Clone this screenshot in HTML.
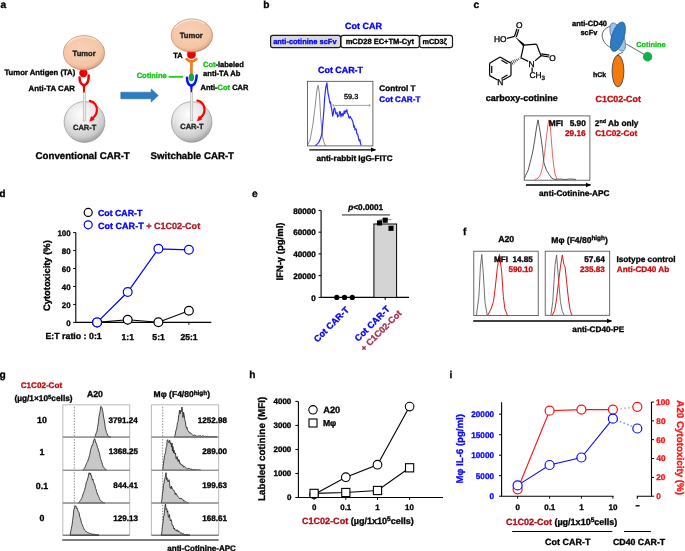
<!DOCTYPE html>
<html><head><meta charset="utf-8"><style>
html,body{margin:0;padding:0;background:#fff;}
svg{display:block;will-change:transform;font-family:"Liberation Sans",sans-serif;}
text,tspan{fill:currentColor;stroke:currentColor;stroke-width:0.32px;}
text{text-rendering:geometricPrecision;}
</style></head><body>
<svg width="685" height="551" viewBox="0 0 685 551">
<rect width="685" height="551" fill="#fff"/>
<defs><radialGradient id="tum" cx="45%" cy="40%" r="60%"><stop offset="0" stop-color="#f8d2b8"/><stop offset="0.8" stop-color="#f4c5a6"/><stop offset="0.95" stop-color="#e5ac8a"/><stop offset="1" stop-color="#c99072"/></radialGradient><radialGradient id="cell" cx="42%" cy="32%" r="70%"><stop offset="0" stop-color="#fdfdfd"/><stop offset="0.45" stop-color="#e9e9e9"/><stop offset="0.8" stop-color="#cbcbcb"/><stop offset="1" stop-color="#9c9c9c"/></radialGradient><marker id="ah" markerWidth="6" markerHeight="6" refX="5" refY="3" orient="auto" markerUnits="userSpaceOnUse"><path d="M0,0.6 L5.5,3 L0,5.4 z" fill="#000"/></marker></defs>
<text x="0.60" y="7.90" font-size="10.2" font-weight="bold" style="color:#000">a</text>
<text x="263.23" y="7.90" font-size="10.2" font-weight="bold" style="color:#000">b</text>
<text x="473.60" y="7.90" font-size="10.2" font-weight="bold" style="color:#000">c</text>
<text x="-0.72" y="196.60" font-size="10.2" font-weight="bold" style="color:#000">d</text>
<text x="252.10" y="196.60" font-size="10.2" font-weight="bold" style="color:#000">e</text>
<text x="463.03" y="234.50" font-size="10.2" font-weight="bold" style="color:#000">f</text>
<text x="-0.62" y="377.70" font-size="10.2" font-weight="bold" style="color:#000">g</text>
<text x="249.29" y="377.90" font-size="10.2" font-weight="bold" style="color:#000">h</text>
<text x="449.39" y="377.90" font-size="10.2" font-weight="bold" style="color:#000">i</text>
<circle cx="83.4" cy="73.1" r="4.2" fill="#ee0000"/>
<ellipse cx="84" cy="52.8" rx="20.6" ry="17.2" fill="url(#tum)" stroke="#b07c5e" stroke-width="0.6"/>
<path d="M67.108,45.059999999999995 A19.158,15.48 0 0 1 96.36,40.416" fill="none" stroke="#fff" stroke-opacity="0.55" stroke-width="1.1"/>
<text x="72.59" y="55.60" font-size="7.6" font-weight="bold" style="color:#1e1a16">Tumor</text>
<text x="4.51" y="74.90" font-size="7.7" font-weight="bold" style="color:#000">Tumor Antigen (TA)</text>
<text x="28.61" y="91.00" font-size="7.8" font-weight="bold" style="color:#000">Anti-TA CAR</text>
<path d="M79.6,77.4 C79.4,82.5 81.5,84.6 84,85.2 C86.6,84.6 88.8,82.5 88.7,75.4" fill="none" stroke="#ee0000" stroke-width="2.5" stroke-linecap="round"/>
<path d="M82.6,84.6 L85.4,84.6 L84.8,93 L83.2,93 z" fill="#ee0000"/>
<circle cx="84.5" cy="122" r="20.4" fill="url(#cell)" stroke="#8a8a8a" stroke-width="0.6"/>
<rect x="83.2" y="92.6" width="2.2" height="28.400000000000006" fill="#f3ece4" stroke="#9a9a9a" stroke-width="0.45"/>
<g transform="translate(0 0)"><path d="M89.8,100.9 C94.6,101.8 97.3,106.2 96.9,110.7 C96.6,114.2 94.8,116.6 92.6,118.2" fill="none" stroke="#ff0000" stroke-width="2.2" stroke-linecap="round"/><path d="M89.7,121.2 L91.3,116.6 L94.4,119.6 z" fill="#ff0000" stroke="#ff0000" stroke-width="0.6" stroke-linejoin="round"/></g>
<text x="73.02" y="129.80" font-size="7.5" font-weight="bold" style="color:#1a1a1a">CAR-T</text>
<text x="35.60" y="159.40" font-size="9.7" font-weight="bold" style="color:#000">Conventional CAR-T</text>
<path d="M120.8,92.2 L151.2,92.2 L151.2,88.9 L158.3,95.5 L151.2,102.1 L151.2,98.8 L120.8,98.8 z" fill="#2a7dc0" stroke="#1f5d96" stroke-width="0.5"/>
<circle cx="191.4" cy="54.4" r="4.1" fill="#ee0000" stroke="#8a0000" stroke-width="0.4"/>
<ellipse cx="191.9" cy="35.5" rx="20.7" ry="16.6" fill="url(#tum)" stroke="#b07c5e" stroke-width="0.6"/>
<path d="M174.92600000000002,28.03 A19.251,14.940000000000001 0 0 1 204.32,23.548000000000002" fill="none" stroke="#fff" stroke-opacity="0.55" stroke-width="1.1"/>
<text x="179.69" y="38.00" font-size="7.6" font-weight="bold" style="color:#1e1a16">Tumor</text>
<text x="173.32" y="57.90" font-size="7.5" font-weight="bold" style="color:#000">TA</text>
<path d="M186.0,58.3 Q191.4,64.6 197.1,58.3" fill="none" stroke="#f47920" stroke-width="2.7"/>
<rect x="190.1" y="61" width="2.7" height="13.5" fill="#f47920"/>
<path d="M187.0,77.8 C186.9,83 189,85.2 191.4,85.6 C194,85.2 196.2,83 196.7,75.4" fill="none" stroke="#1010ee" stroke-width="2.5" stroke-linecap="round"/>
<path d="M190.0,85 L192.8,85 L192.1,92.4 L190.7,92.4 z" fill="#1010ee"/>
<ellipse cx="191.4" cy="77.3" rx="2.7" ry="3.9" fill="#13a84a"/>
<line x1="168.6" y1="76.8" x2="183.2" y2="76.8" stroke="#22c422" stroke-width="1.8"/>
<text x="136.69" y="77.76" font-size="7.5" font-weight="bold" style="color:#12c412">Cotinine</text>
<text x="202.99" y="66.56" font-size="7.5" font-weight="bold" style="color:#000"><tspan style="color:#12c412">Cot</tspan>-labeled</text>
<text x="203.08" y="75.60" font-size="7.6" font-weight="bold" style="color:#000">anti-TA Ab</text>
<text x="200.51" y="89.86" font-size="7.5" font-weight="bold" style="color:#000">Anti-<tspan style="color:#12c412">Cot</tspan> CAR</text>
<circle cx="191.7" cy="122" r="20.3" fill="url(#cell)" stroke="#8a8a8a" stroke-width="0.6"/>
<rect x="190.6" y="92.3" width="2.2" height="28.5" fill="#f3ece4" stroke="#9a9a9a" stroke-width="0.45"/>
<g transform="translate(107.6 -0.3)"><path d="M89.8,100.9 C94.6,101.8 97.3,106.2 96.9,110.7 C96.6,114.2 94.8,116.6 92.6,118.2" fill="none" stroke="#ff0000" stroke-width="2.2" stroke-linecap="round"/><path d="M89.7,121.2 L91.3,116.6 L94.4,119.6 z" fill="#ff0000" stroke="#ff0000" stroke-width="0.6" stroke-linejoin="round"/></g>
<text x="180.22" y="129.00" font-size="7.5" font-weight="bold" style="color:#1a1a1a">CAR-T</text>
<text x="150.62" y="159.40" font-size="9.7" font-weight="bold" style="color:#000">Switchable CAR-T</text>
<text x="345.03" y="29.30" font-size="8.99" font-weight="bold" style="color:#0000ff">Cot CAR</text>
<rect x="270.6" y="35.4" width="70" height="12.3" rx="2.2" fill="#d9d9d9" stroke="#1a1a1a" stroke-width="1.2"/>
<rect x="341.0" y="35.4" width="78.3" height="12.3" rx="2.2" fill="#fff" stroke="#1a1a1a" stroke-width="1.2"/>
<rect x="419.7" y="35.4" width="32.8" height="12.3" rx="2.2" fill="#fff" stroke="#1a1a1a" stroke-width="1.2"/>
<text x="273.18" y="44.05" font-size="7.46" font-weight="bold" style="color:#0000ff">anti-cotinine scFv</text>
<text x="345.70" y="43.87" font-size="7.53" font-weight="bold" style="color:#000">mCD28 EC+TM-Cyt</text>
<text x="422.62" y="43.77" font-size="7.25" font-weight="bold" style="color:#000">mCD3ζ</text>
<text x="318.03" y="73.47" font-size="8.92" font-weight="bold" style="color:#0000ff">Cot CAR-T</text>
<rect x="307.4" y="81.3" width="65.5" height="64.6" fill="none" stroke="#444" stroke-width="0.8"/>
<polyline points="307.6,145.3 310.2,139.4 312.8,125.0 314.8,109.3 316.8,91.0 318.1,85.2 319.4,93.7 320.7,117.2 322.6,136.8 324.6,144.6 326.0,145.6" fill="none" stroke="#666" stroke-width="0.75"/>
<polyline points="315.4,145.7 315.9,145.2 316.5,144.7 317.0,144.1 317.6,143.6 318.1,143.1 318.7,142.6 319.4,141.1 320.0,139.6 320.7,138.1 321.4,135.5 322.0,132.9 322.6,125.3 323.3,117.8 324.0,108.1 324.6,98.7 325.2,92.3 325.9,86.8 326.9,82.9 327.5,88.6 328.2,94.5 329.0,97.4 329.8,102.8 330.5,101.9 331.1,106.6 331.9,110.1 332.7,116.1 333.3,114.1 333.8,109.2 334.4,107.9 335.0,109.3 335.7,113.5 336.3,113.9 337.0,112.5 337.6,117.1 338.3,115.5 339.0,115.8 339.6,111.5 340.3,111.8 340.9,116.8 341.6,114.5 342.2,113.4 342.9,116.0 343.5,114.4 344.2,110.9 344.8,113.5 345.5,110.8 346.1,111.7 346.8,109.6 347.4,113.4 348.1,114.2 348.8,117.4 349.4,118.2 350.1,116.4 350.7,117.8 351.4,118.4 352.0,119.9 352.7,121.0 353.3,123.9 353.8,127.1 354.4,125.9 355.0,129.8 355.6,128.8 356.2,129.3 356.8,133.7 357.4,134.1 357.9,135.2 358.5,138.0 359.2,140.9 359.9,139.6 360.5,143.5 361.2,145.3" fill="none" stroke="#2a2aff" stroke-width="1.2" stroke-linejoin="round"/>
<path d="M333.1,105.4 H369.6 M333.1,104 V106.8 M369.6,104 V106.8" stroke="#777" stroke-width="0.7" fill="none"/>
<text x="344.01" y="99.30" font-size="7.3" font-weight="normal" style="color:#000">59.3</text>
<text x="379.36" y="91.40" font-size="8.17" font-weight="bold" style="color:#000">Control T</text>
<text x="379.37" y="102.28" font-size="8.12" font-weight="bold" style="color:#0000ff">Cot CAR-T</text>
<line x1="309.3" y1="149.8" x2="375.5" y2="149.8" stroke="#000" stroke-width="1.3" marker-end="url(#ah)"/>
<text x="316.46" y="160.78" font-size="8.12" font-weight="bold" style="color:#000">anti-rabbit IgG-FITC</text>
<line x1="507.0" y1="38.4" x2="514.5" y2="36.4" stroke="#000" stroke-width="1.2"/>
<line x1="514.5" y1="36.4" x2="517.0" y2="28.8" stroke="#000" stroke-width="1.2"/>
<line x1="516.3048590008981" y1="36.99370361871649" x2="518.8048590008981" y2="29.393703618716486" stroke="#000" stroke-width="1.2"/>
<path d="M514.5,36.2 L524.6,44.2 L522.9,46.0 z" fill="#000"/>
<line x1="523.7" y1="45.1" x2="536.5" y2="44.1" stroke="#000" stroke-width="1.2"/>
<line x1="536.5" y1="44.1" x2="541.0" y2="55.7" stroke="#000" stroke-width="1.2"/>
<line x1="523.7" y1="45.1" x2="521.0" y2="57.7" stroke="#000" stroke-width="1.2"/>
<line x1="521.0" y1="57.7" x2="528.2" y2="61.4" stroke="#000" stroke-width="1.2"/>
<line x1="535.0" y1="60.9" x2="541.0" y2="55.7" stroke="#000" stroke-width="1.2"/>
<line x1="541.0" y1="55.7" x2="549.0" y2="57.0" stroke="#000" stroke-width="1.2"/>
<line x1="541.3047525318151" y1="53.82459980421451" x2="549.3047525318151" y2="55.124599804214505" stroke="#000" stroke-width="1.2"/>
<line x1="532.1" y1="67.6" x2="532.1" y2="72.4" stroke="#000" stroke-width="1.2"/>
<line x1="520.51" y1="58.62" x2="519.96" y2="57.64" stroke="#000" stroke-width="0.75"/>
<line x1="519.04" y1="59.83" x2="518.16" y2="58.27" stroke="#000" stroke-width="0.75"/>
<line x1="517.58" y1="61.05" x2="516.36" y2="58.89" stroke="#000" stroke-width="0.75"/>
<line x1="516.11" y1="62.26" x2="514.56" y2="59.51" stroke="#000" stroke-width="0.75"/>
<line x1="514.65" y1="63.48" x2="512.76" y2="60.13" stroke="#000" stroke-width="0.75"/>
<line x1="513.18" y1="64.69" x2="510.96" y2="60.75" stroke="#000" stroke-width="0.75"/>
<line x1="500.1" y1="57.0" x2="511.0" y2="63.3" stroke="#000" stroke-width="1.2"/>
<line x1="511.0" y1="63.3" x2="511.0" y2="75.6" stroke="#000" stroke-width="1.2"/>
<line x1="489.6" y1="75.6" x2="489.6" y2="63.3" stroke="#000" stroke-width="1.2"/>
<line x1="489.6" y1="63.3" x2="500.1" y2="57.0" stroke="#000" stroke-width="1.2"/>
<line x1="511.0" y1="75.6" x2="503.2" y2="80.0" stroke="#000" stroke-width="1.2"/>
<line x1="497.6" y1="80.0" x2="489.6" y2="75.6" stroke="#000" stroke-width="1.2"/>
<line x1="501.45" y1="60.24" x2="507.55" y2="63.76" stroke="#000" stroke-width="1.2"/>
<line x1="491.74" y1="72.88" x2="491.74" y2="66.0" stroke="#000" stroke-width="1.2"/>
<line x1="507.55" y1="75.08" x2="501.45" y2="78.44" stroke="#000" stroke-width="1.2"/>
<text x="515.94" y="28.18" font-size="8.4" font-weight="normal" style="color:#000">O</text>
<text x="493.91" y="42.18" font-size="8.4" font-weight="normal" style="color:#000">HO</text>
<text x="549.34" y="61.08" font-size="8.4" font-weight="normal" style="color:#000">O</text>
<text x="528.56" y="66.68" font-size="8.4" font-weight="normal" style="color:#000">N</text>
<text x="497.16" y="84.88" font-size="8.4" font-weight="normal" style="color:#000">N</text>
<text x="529.40" y="78.3" font-size="8.4" style="color:#000">CH<tspan font-size="6.2" dy="1.8">3</tspan></text>
<text x="485.75" y="100.69" font-size="8.99" font-weight="bold" style="color:#000">carboxy-cotinine</text>
<path d="M610.6,26.2 C604.5,27.5 601.2,33 602.4,37.5 C603.6,42.5 607.2,46.5 611.7,47.8" fill="none" stroke="#222" stroke-width="0.7"/>
<line x1="626.2" y1="44" x2="644" y2="54.3" stroke="#222" stroke-width="0.7"/>
<line x1="623.3" y1="52" x2="616.8" y2="55.2" stroke="#222" stroke-width="0.7"/>
<ellipse cx="617.7" cy="37" rx="6.0" ry="15.1" transform="rotate(-21.8 617.7 37)" fill="#9dc3e6" stroke="#3a6a9a" stroke-width="0.6"/>
<ellipse cx="617.9" cy="36.7" rx="6.2" ry="15.4" transform="rotate(17.8 617.9 36.7)" fill="#2e7bc4" stroke="#1f4e79" stroke-width="0.6"/>
<circle cx="647.6" cy="56.8" r="4.7" fill="#13b04b"/>
<ellipse cx="618" cy="71.1" rx="5.9" ry="15.8" fill="#f47a0c" stroke="#2a3a4a" stroke-width="0.8"/>
<text x="572.08" y="26.26" font-size="7.48" font-weight="bold" style="color:#000">anti-CD40</text>
<text x="580.54" y="35.32" font-size="7.37" font-weight="bold" style="color:#000">scFv</text>
<text x="636.20" y="46.51" font-size="7.34" font-weight="bold" style="color:#12c412">Cotinine</text>
<text x="593.01" y="76.88" font-size="6.98" font-weight="bold" style="color:#000">hCk</text>
<text x="595.54" y="102.05" font-size="8.88" font-weight="bold" style="color:#c80c0c">C1C02-Cot</text>
<rect x="524.2" y="115.9" width="65.7" height="64.3" fill="none" stroke="#444" stroke-width="0.8"/>
<polyline points="524.4,178.5 525.5,175.7 528.1,170.4 530.8,159.9 532.7,152.0 534.7,140.2 536.0,131.0 537.3,123.1 538.0,119.9 539.3,127.1 540.6,135.0 542.6,149.4 543.9,162.6 546.5,170.4 549.2,174.4 551.8,178.3 555.0,179.4 560.0,179.1 565.0,179.5 570.0,179.0 576.0,179.4" fill="none" stroke="#555" stroke-width="1.0"/>
<polyline points="534.7,179.6 538.0,178.3 540.6,174.4 542.6,166.5 544.6,153.4 546.5,136.3 547.8,125.8 548.9,119.9 549.8,121.8 551.1,136.3 552.4,153.4 553.8,166.5 555.1,174.4 557.0,179.0" fill="none" stroke="#e02020" stroke-width="0.7"/>
<text x="548.74" y="126.05" font-size="8.3" font-weight="bold" style="color:#000">MFI</text>
<text x="569.69" y="126.05" font-size="8.3" font-weight="bold" style="color:#000">5.90</text>
<text x="565.02" y="136.32" font-size="8.22" font-weight="bold" style="color:#c80c0c">29.16</text>
<text x="594.8" y="126.0" font-size="8.3" font-weight="bold">2<tspan font-size="5.4" dy="-2.8">nd</tspan><tspan dy="2.8"> Ab only</tspan></text>
<text x="595.16" y="136.43" font-size="8.24" font-weight="bold" style="color:#c80c0c">C1C02-Cot</text>
<line x1="526" y1="185" x2="590.5" y2="185" stroke="#000" stroke-width="1.3" marker-end="url(#ah)"/>
<text x="539.06" y="195.92" font-size="8.23" font-weight="bold" style="color:#000">anti-Cotinine-APC</text>
<circle cx="88.2" cy="212.4" r="4.0" fill="#fff" stroke="#000" stroke-width="1.2"/>
<circle cx="88.2" cy="224.8" r="4.0" fill="#fff" stroke="#0000ff" stroke-width="1.2"/>
<text x="98.04" y="216.20" font-size="8.76" font-weight="bold" style="color:#0000ff">Cot CAR-T</text>
<text x="98.03" y="228.90" font-size="9.04" font-weight="bold" style="color:#000"><tspan style="color:#0000ff">Cot CAR-T</tspan> <tspan style="color:#b01c26">+ C1C02-Cot</tspan></text>
<path d="M75.8,232.6 V322.4 H211.3" fill="none" stroke="#000" stroke-width="1.1"/>
<line x1="73.2" y1="322.40" x2="75.8" y2="322.40" stroke="#000" stroke-width="1"/>
<text x="66.23" y="325.55" font-size="7.9" font-weight="bold" style="color:#000">0</text>
<line x1="73.2" y1="304.44" x2="75.8" y2="304.44" stroke="#000" stroke-width="1"/>
<text x="61.84" y="307.59" font-size="7.9" font-weight="bold" style="color:#000">20</text>
<line x1="73.2" y1="286.48" x2="75.8" y2="286.48" stroke="#000" stroke-width="1"/>
<text x="61.84" y="289.63" font-size="7.9" font-weight="bold" style="color:#000">40</text>
<line x1="73.2" y1="268.52" x2="75.8" y2="268.52" stroke="#000" stroke-width="1"/>
<text x="61.84" y="271.67" font-size="7.9" font-weight="bold" style="color:#000">60</text>
<line x1="73.2" y1="250.56" x2="75.8" y2="250.56" stroke="#000" stroke-width="1"/>
<text x="61.84" y="253.71" font-size="7.9" font-weight="bold" style="color:#000">80</text>
<line x1="73.2" y1="232.60" x2="75.8" y2="232.60" stroke="#000" stroke-width="1"/>
<text x="57.44" y="235.75" font-size="7.9" font-weight="bold" style="color:#000">100</text>
<line x1="97.1" y1="322.4" x2="97.1" y2="324.79999999999995" stroke="#000" stroke-width="1"/>
<line x1="127.7" y1="322.4" x2="127.7" y2="324.79999999999995" stroke="#000" stroke-width="1"/>
<line x1="158.4" y1="322.4" x2="158.4" y2="324.79999999999995" stroke="#000" stroke-width="1"/>
<line x1="188.9" y1="322.4" x2="188.9" y2="324.79999999999995" stroke="#000" stroke-width="1"/>
<g transform="translate(46.80 275.60) rotate(-90)"><text x="-35.47" y="3.23" font-size="9.4" font-weight="bold" style="color:#000">Cytotoxicity (%)</text></g>
<text x="45.51" y="339.42" font-size="8.8" font-weight="bold" style="color:#000">E:T ratio : 0:1</text>
<text x="121.53" y="339.55" font-size="8.6" font-weight="bold" style="color:#000">1:1</text>
<text x="152.37" y="339.55" font-size="8.6" font-weight="bold" style="color:#000">5:1</text>
<text x="180.46" y="339.55" font-size="8.6" font-weight="bold" style="color:#000">25:1</text>
<polyline points="97.1,322.4 127.7,319.8 158.4,322.3 188.9,310.8" fill="none" stroke="#000" stroke-width="1.1"/>
<polyline points="97.1,322.4 127.7,292.0 158.4,248.8 188.9,249.8" fill="none" stroke="#0000ff" stroke-width="1.2"/>
<circle cx="97.1" cy="322.4" r="4.4" fill="#fff" stroke="#000" stroke-width="1.2"/>
<circle cx="127.7" cy="319.8" r="4.4" fill="#fff" stroke="#000" stroke-width="1.2"/>
<circle cx="158.4" cy="322.3" r="4.4" fill="#fff" stroke="#000" stroke-width="1.2"/>
<circle cx="188.9" cy="310.8" r="4.4" fill="#fff" stroke="#000" stroke-width="1.2"/>
<circle cx="97.1" cy="322.4" r="4.4" fill="#fff" stroke="#0000ff" stroke-width="1.2"/>
<circle cx="127.7" cy="292" r="4.4" fill="#fff" stroke="#0000ff" stroke-width="1.2"/>
<circle cx="158.4" cy="248.8" r="4.4" fill="#fff" stroke="#0000ff" stroke-width="1.2"/>
<circle cx="188.9" cy="249.8" r="4.4" fill="#fff" stroke="#0000ff" stroke-width="1.2"/>
<path d="M321.1,210.4 V297.4 H409" fill="none" stroke="#000" stroke-width="1.1"/>
<line x1="318.5" y1="297.40" x2="321.1" y2="297.40" stroke="#000" stroke-width="1"/>
<text x="311.33" y="300.63" font-size="8.1" font-weight="bold" style="color:#000">0</text>
<line x1="318.5" y1="275.65" x2="321.1" y2="275.65" stroke="#000" stroke-width="1"/>
<text x="293.31" y="278.88" font-size="8.1" font-weight="bold" style="color:#000">20000</text>
<line x1="318.5" y1="253.90" x2="321.1" y2="253.90" stroke="#000" stroke-width="1"/>
<text x="293.31" y="257.13" font-size="8.1" font-weight="bold" style="color:#000">40000</text>
<line x1="318.5" y1="232.15" x2="321.1" y2="232.15" stroke="#000" stroke-width="1"/>
<text x="293.31" y="235.38" font-size="8.1" font-weight="bold" style="color:#000">60000</text>
<line x1="318.5" y1="210.40" x2="321.1" y2="210.40" stroke="#000" stroke-width="1"/>
<text x="293.31" y="213.63" font-size="8.1" font-weight="bold" style="color:#000">80000</text>
<line x1="344.5" y1="297.4" x2="344.5" y2="300.0" stroke="#000" stroke-width="1"/>
<line x1="385.2" y1="297.4" x2="385.2" y2="300.0" stroke="#000" stroke-width="1"/>
<g transform="translate(279.30 251.50) rotate(-90)"><text x="-29.11" y="3.27" font-size="9.5" font-weight="bold" style="color:#000">IFN-γ (pg/ml)</text></g>
<rect x="373.9" y="224" width="22.7" height="73.39999999999998" fill="#d4d4d4" stroke="#000" stroke-width="1"/>
<path d="M385.2,224 V219.7 M379.5,219.7 H391.4" stroke="#777" stroke-width="0.9"/>
<circle cx="336.8" cy="297.4" r="2.6" fill="#000"/>
<circle cx="344.5" cy="297.4" r="2.6" fill="#000"/>
<circle cx="352.3" cy="297.4" r="2.6" fill="#000"/>
<rect x="376.95" y="220.35" width="5.1" height="5.1" fill="#000"/>
<rect x="382.65" y="217.64999999999998" width="5.1" height="5.1" fill="#000"/>
<rect x="388.45" y="225.75" width="5.1" height="5.1" fill="#000"/>
<line x1="342" y1="214.85" x2="389.9" y2="214.85" stroke="#808080" stroke-width="1.7"/>
<text x="348.3" y="209.5" font-size="8.2" font-weight="bold"><tspan font-style="italic">p</tspan>&lt;0.0001</text>
<g transform="translate(349.50 310.60) rotate(-45)"><text x="-45.39" y="0" font-size="9.0" font-weight="bold"><tspan style="color:#0000ff">Cot CAR-T</tspan></text></g>
<g transform="translate(390.40 309.80) rotate(-45)"><text x="-45.39" y="0" font-size="9.0" font-weight="bold"><tspan style="color:#0000ff">Cot CAR-T</tspan></text></g>
<g transform="translate(402.10 314.00) rotate(-45)"><text x="-53.65" y="0" font-size="9.0" font-weight="bold"><tspan style="color:#a83050">+ C1C02-Cot</tspan></text></g>
<text x="498.18" y="241.61" font-size="8.76" font-weight="bold" style="color:#000">A20</text>
<text x="551.3" y="242.6" font-size="8.5" font-weight="bold">Mφ (F4/80<tspan font-size="6.4" dy="-2.8">high</tspan><tspan dy="2.8">)</tspan></text>
<rect x="473.8" y="251.2" width="64.4" height="64.4" fill="none" stroke="#444" stroke-width="0.8"/>
<rect x="545.2" y="251.2" width="64.5" height="64.1" fill="none" stroke="#444" stroke-width="0.8"/>
<polyline points="476.4,315.6 478.9,296.3 480.4,267.1 481.8,254.4 483.3,273.4 485.0,302.6 487.2,315.0" fill="none" stroke="#555" stroke-width="0.85"/>
<polyline points="550.9,315.0 552.8,301.4 554.1,279.8 555.1,264.5 556.6,255.0 557.5,267.1 558.8,282.3 560.4,301.4 562.3,311.5 564.2,315.0" fill="none" stroke="#555" stroke-width="0.85"/>
<polyline points="487.8,315.0 491.0,309.0 493.5,301.4 495.4,286.1 497.3,268.3 499.5,254.4 501.8,273.4 503.3,296.3 504.9,309.0 507.5,315.5" fill="none" stroke="#e01818" stroke-width="1.0"/>
<polyline points="552.2,315.5 554.7,310.3 556.6,298.8 558.5,282.3 560.4,267.1 562.3,255.0 563.9,264.5 565.1,267.1 566.8,283.6 568.7,301.4 570.2,310.3 571.9,315.3" fill="none" stroke="#e01818" stroke-width="1.0"/>
<text x="493.95" y="261.70" font-size="8.15" font-weight="bold" style="color:#000" xml:space="preserve">MFI  14.85</text>
<text x="508.55" y="271.90" font-size="8.0" font-weight="bold" style="color:#c80c0c">590.10</text>
<text x="584.17" y="261.70" font-size="8.3" font-weight="bold" style="color:#000">57.64</text>
<text x="580.02" y="271.90" font-size="8.1" font-weight="bold" style="color:#c80c0c">235.83</text>
<text x="616.45" y="262.23" font-size="8.26" font-weight="bold" style="color:#000">Isotype control</text>
<text x="616.80" y="272.40" font-size="8.18" font-weight="bold" style="color:#c80c0c">Anti-CD40 Ab</text>
<line x1="473.2" y1="321" x2="611.5" y2="321" stroke="#000" stroke-width="1.3" marker-end="url(#ah)"/>
<text x="572.36" y="332.01" font-size="8.19" font-weight="bold" style="color:#000">anti-CD40-PE</text>
<text x="20.67" y="387.88" font-size="8.12" font-weight="bold" style="color:#c80c0c">C1C02-Cot</text>
<text x="14.4" y="401.2" font-size="8.3" font-weight="bold">(µg/1×10<tspan font-size="6.0" dy="-2.3">5</tspan><tspan dy="2.3">cells)</tspan></text>
<text x="86.88" y="397.09" font-size="8.71" font-weight="bold" style="color:#000">A20</text>
<text x="153.6" y="397.4" font-size="8.5" font-weight="bold">Mφ (F4/80<tspan font-size="6.4" dy="-2.8">high</tspan><tspan dy="2.8">)</tspan></text>
<text x="37.01" y="422.82" font-size="8.8" font-weight="bold" style="color:#000">10</text>
<text x="39.40" y="454.92" font-size="8.8" font-weight="bold" style="color:#000">1</text>
<text x="35.83" y="488.72" font-size="8.8" font-weight="bold" style="color:#000">0.1</text>
<text x="39.56" y="520.62" font-size="8.8" font-weight="bold" style="color:#000">0</text>
<path d="M62.8,437.1 V404.8 H129.7 V437.1" fill="none" stroke="#a8a8a8" stroke-width="0.8"/>
<line x1="74.3" y1="406.8" x2="74.3" y2="437.1" stroke="#8a8a8a" stroke-width="1.0" stroke-dasharray="1.4 1.4"/>
<path d="M94.7,437.1 L94.7,437.1 L95.3,435.7 L95.8,434.1 L96.4,432.7 L97.0,431.0 L97.5,427.5 L98.0,424.8 L98.5,421.5 L99.0,416.3 L99.7,413.7 L100.3,409.9 L100.8,406.4 L101.3,406.9 L101.9,407.4 L102.5,410.2 L103.0,412.7 L103.5,416.9 L104.0,418.8 L104.5,421.8 L105.0,425.7 L105.5,428.9 L106.0,430.4 L106.5,432.4 L107.0,433.4 L107.5,435.1 L108.0,435.7 L108.5,436.3 L109.0,436.5 L109.5,436.7 L110.0,436.8 L110.5,437.0 L111.0,437.1 Z" fill="#c8c8c8" stroke="#1a1a1a" stroke-width="0.8" stroke-linejoin="round"/>
<line x1="62.8" y1="437.1" x2="129.7" y2="437.1" stroke="#333" stroke-width="0.9"/>
<path d="M151.4,437.1 V404.8 H218.7 V437.1" fill="none" stroke="#a8a8a8" stroke-width="0.8"/>
<line x1="162.7" y1="406.8" x2="162.7" y2="437.1" stroke="#8a8a8a" stroke-width="1.0" stroke-dasharray="1.4 1.4"/>
<path d="M174.5,437.1 L174.5,437.1 L175.0,435.2 L175.5,433.0 L176.0,430.0 L176.5,429.2 L177.0,426.1 L177.5,422.7 L178.0,421.9 L178.5,417.0 L179.1,413.8 L179.6,410.1 L180.2,413.7 L180.8,410.6 L181.3,411.4 L181.9,407.0 L182.5,410.5 L183.0,417.5 L183.6,412.4 L184.1,414.7 L184.7,419.3 L185.4,422.1 L186.0,426.6 L186.5,428.2 L187.0,427.3 L187.5,430.0 L188.0,430.4 L188.5,431.1 L189.0,432.4 L189.5,432.3 L190.0,433.2 L190.6,432.9 L191.2,433.9 L191.7,434.1 L192.3,434.7 L192.9,434.9 L193.4,435.3 L193.9,435.6 L194.4,434.9 L195.0,435.1 L195.5,435.4 L196.0,435.7 L196.5,436.1 L197.0,436.2 L197.5,436.2 L198.0,436.4 L198.5,435.8 L199.0,436.2 L199.5,435.7 L200.0,436.2 L200.5,435.7 L201.0,435.8 L201.5,436.7 L202.0,436.5 L202.5,435.8 L203.0,436.2 L203.5,435.8 L204.0,436.4 L204.5,436.7 L205.0,436.2 L205.5,436.1 L206.0,436.6 L206.5,436.7 L207.0,436.5 L207.5,436.0 L208.0,436.2 L208.5,436.8 L209.0,436.7 L209.5,436.8 L210.0,436.9 L210.5,436.3 L211.0,436.8 L211.6,436.5 L212.1,436.6 L212.6,436.8 L213.1,436.4 L213.7,436.9 L214.2,436.5 L214.7,436.9 L215.3,436.8 L215.8,436.9 L216.4,437.0 L217.0,437.1 Z" fill="#c8c8c8" stroke="#1a1a1a" stroke-width="0.8" stroke-linejoin="round"/>
<line x1="151.4" y1="437.1" x2="218.7" y2="437.1" stroke="#333" stroke-width="0.9"/>
<path d="M62.8,470.3 V437.1 H129.7 V470.3" fill="none" stroke="#a8a8a8" stroke-width="0.8"/>
<line x1="74.3" y1="439.1" x2="74.3" y2="470.3" stroke="#8a8a8a" stroke-width="1.0" stroke-dasharray="1.4 1.4"/>
<path d="M82.5,470.3 L82.5,470.3 L83.0,469.8 L83.5,469.2 L84.0,468.5 L84.5,468.1 L85.0,467.5 L85.5,466.2 L86.0,464.6 L86.5,463.5 L87.0,462.4 L87.5,461.8 L88.0,460.3 L88.5,458.8 L89.0,457.2 L89.5,455.5 L90.0,453.5 L90.5,450.2 L91.0,448.5 L91.5,446.9 L92.0,445.3 L92.5,445.4 L93.0,443.5 L93.5,440.9 L94.0,439.8 L94.5,438.6 L95.0,439.3 L95.5,442.6 L96.0,442.4 L96.5,443.6 L97.0,445.5 L97.5,447.7 L98.0,448.4 L98.5,451.2 L99.0,451.4 L99.5,453.6 L100.0,456.2 L100.5,458.6 L101.0,459.8 L101.5,461.7 L102.0,462.9 L102.5,464.5 L103.0,466.3 L103.5,467.0 L104.0,467.7 L104.6,468.4 L105.1,469.2 L105.6,469.9 L106.3,470.0 L107.0,470.3 Z" fill="#c8c8c8" stroke="#1a1a1a" stroke-width="0.8" stroke-linejoin="round"/>
<line x1="62.8" y1="470.3" x2="129.7" y2="470.3" stroke="#333" stroke-width="0.9"/>
<path d="M151.4,470.3 V437.1 H218.7 V470.3" fill="none" stroke="#a8a8a8" stroke-width="0.8"/>
<line x1="162.7" y1="439.1" x2="162.7" y2="470.3" stroke="#8a8a8a" stroke-width="1.0" stroke-dasharray="1.4 1.4"/>
<path d="M162.7,470.3 L162.7,470.3 L163.3,465.4 L164.0,459.7 L164.6,455.2 L165.1,454.1 L165.7,451.3 L166.2,447.1 L166.7,446.5 L167.2,440.3 L167.7,439.7 L168.3,441.5 L169.0,442.8 L169.7,440.2 L170.4,443.6 L170.9,442.7 L171.5,447.1 L172.0,443.1 L172.5,450.8 L173.0,446.5 L173.5,452.9 L174.0,450.0 L174.5,453.4 L175.0,454.1 L175.5,452.9 L176.0,458.4 L176.5,459.2 L177.0,456.5 L177.6,459.2 L178.2,461.6 L178.7,459.3 L179.3,460.5 L179.8,463.6 L180.4,463.2 L180.9,464.6 L181.4,464.6 L181.9,464.4 L182.5,466.0 L183.0,465.4 L183.5,467.0 L184.0,467.1 L184.6,466.4 L185.1,467.4 L185.6,467.8 L186.1,467.9 L186.7,468.2 L187.2,468.5 L187.8,469.1 L188.3,468.4 L188.9,468.2 L189.4,468.4 L190.0,468.9 L190.5,469.3 L191.0,469.4 L191.5,469.1 L192.0,469.2 L192.5,469.8 L193.0,469.7 L193.5,469.6 L194.0,469.6 L194.5,469.4 L195.0,469.7 L195.5,470.1 L196.0,469.5 L196.6,469.9 L197.1,469.8 L197.6,470.1 L198.1,470.0 L198.7,470.0 L199.2,469.7 L199.7,470.1 L200.3,470.2 L201.0,470.3 Z" fill="#c8c8c8" stroke="#1a1a1a" stroke-width="0.8" stroke-linejoin="round"/>
<line x1="151.4" y1="470.3" x2="218.7" y2="470.3" stroke="#333" stroke-width="0.9"/>
<path d="M62.8,503.0 V470.3 H129.7 V503.0" fill="none" stroke="#a8a8a8" stroke-width="0.8"/>
<line x1="74.3" y1="472.3" x2="74.3" y2="503.0" stroke="#8a8a8a" stroke-width="1.0" stroke-dasharray="1.4 1.4"/>
<path d="M78.3,503.0 L78.3,503.0 L78.8,502.4 L79.4,501.7 L79.9,501.1 L80.5,500.4 L81.0,499.9 L81.5,498.4 L82.0,497.7 L82.5,496.0 L83.0,494.2 L83.5,493.2 L84.0,491.5 L84.5,490.6 L85.0,488.1 L85.5,486.5 L86.0,483.9 L86.5,481.8 L87.0,481.2 L87.5,479.1 L88.1,477.4 L88.7,473.9 L89.2,472.7 L90.0,474.4 L90.5,473.0 L91.0,475.6 L91.5,475.6 L92.0,478.4 L92.5,480.1 L93.0,479.2 L93.5,482.3 L94.0,483.6 L94.5,483.7 L95.0,485.6 L95.5,488.4 L96.0,488.9 L96.5,491.3 L97.0,492.8 L97.5,494.5 L98.0,494.9 L98.5,496.3 L99.0,497.3 L99.5,498.6 L100.0,500.1 L100.5,500.5 L101.1,501.0 L101.6,501.4 L102.1,501.8 L102.7,502.1 L103.2,502.5 L103.8,502.8 L104.4,502.8 L105.0,503.0 Z" fill="#c8c8c8" stroke="#1a1a1a" stroke-width="0.8" stroke-linejoin="round"/>
<line x1="62.8" y1="503.0" x2="129.7" y2="503.0" stroke="#333" stroke-width="0.9"/>
<path d="M151.4,503.0 V470.3 H218.7 V503.0" fill="none" stroke="#a8a8a8" stroke-width="0.8"/>
<line x1="162.7" y1="472.3" x2="162.7" y2="503.0" stroke="#8a8a8a" stroke-width="1.0" stroke-dasharray="1.4 1.4"/>
<path d="M161.3,503.0 L161.3,503.0 L161.9,499.5 L162.4,494.4 L163.0,490.2 L163.5,484.3 L164.0,483.9 L164.5,479.3 L165.0,478.3 L165.5,475.9 L166.0,472.7 L166.5,479.6 L167.0,477.7 L167.5,481.3 L168.0,481.6 L168.5,481.5 L169.0,479.6 L169.5,482.5 L170.0,487.4 L170.5,486.9 L171.0,488.8 L171.5,486.1 L172.0,487.7 L172.5,489.0 L173.0,489.6 L173.6,490.6 L174.1,490.5 L174.7,491.8 L175.2,494.4 L175.8,493.0 L176.3,494.8 L176.9,494.6 L177.4,495.8 L177.9,496.6 L178.4,497.2 L178.9,497.5 L179.5,498.1 L180.0,499.0 L180.5,497.9 L181.0,498.4 L181.6,498.4 L182.1,499.3 L182.7,499.9 L183.3,499.9 L183.8,501.1 L184.4,500.7 L184.9,501.2 L185.4,501.8 L185.9,502.0 L186.4,501.9 L186.9,502.4 L187.4,502.5 L187.9,502.6 L188.4,502.9 L189.0,503.0 Z" fill="#c8c8c8" stroke="#1a1a1a" stroke-width="0.8" stroke-linejoin="round"/>
<line x1="151.4" y1="503.0" x2="218.7" y2="503.0" stroke="#333" stroke-width="0.9"/>
<path d="M62.8,535.2 V503.0 H129.7 V535.2" fill="none" stroke="#a8a8a8" stroke-width="0.8"/>
<line x1="74.3" y1="505.0" x2="74.3" y2="535.2" stroke="#8a8a8a" stroke-width="1.0" stroke-dasharray="1.4 1.4"/>
<path d="M70.1,535.2 L70.1,535.2 L70.7,531.7 L71.4,528.2 L72.0,525.2 L72.6,520.6 L73.2,516.3 L73.8,509.8 L74.3,508.8 L74.8,506.4 L75.3,506.1 L75.9,505.9 L76.5,508.4 L77.0,507.9 L77.5,509.3 L78.1,511.2 L78.6,512.0 L79.1,512.8 L79.7,516.5 L80.4,518.4 L81.0,520.7 L81.6,523.4 L82.3,524.5 L82.9,526.5 L83.4,527.4 L84.0,528.8 L84.5,530.0 L85.0,530.5 L85.5,530.9 L86.0,531.4 L86.5,532.0 L87.1,532.3 L87.6,532.4 L88.1,532.9 L88.7,532.8 L89.2,533.2 L89.8,533.5 L90.3,533.5 L90.9,533.9 L91.4,533.8 L92.0,534.1 L92.5,534.3 L93.0,534.3 L93.6,534.3 L94.1,534.3 L94.6,534.4 L95.1,534.7 L95.6,534.7 L96.2,534.7 L96.7,534.8 L97.2,534.8 L97.8,535.0 L98.4,535.1 L99.0,535.2 Z" fill="#c8c8c8" stroke="#1a1a1a" stroke-width="0.8" stroke-linejoin="round"/>
<line x1="62.8" y1="535.2" x2="129.7" y2="535.2" stroke="#333" stroke-width="0.9"/>
<path d="M151.4,535.2 V503.0 H218.7 V535.2" fill="none" stroke="#a8a8a8" stroke-width="0.8"/>
<line x1="162.7" y1="505.0" x2="162.7" y2="535.2" stroke="#8a8a8a" stroke-width="1.0" stroke-dasharray="1.4 1.4"/>
<path d="M161.3,535.2 L161.3,535.2 L161.9,531.9 L162.4,526.6 L163.0,522.5 L163.5,516.4 L164.0,516.1 L164.5,512.2 L165.0,505.8 L165.5,504.0 L166.2,509.6 L166.8,508.7 L167.3,512.3 L167.8,510.8 L168.3,516.9 L168.9,517.4 L169.4,514.5 L170.0,519.2 L170.5,521.0 L171.1,519.6 L171.7,521.9 L172.2,525.3 L172.8,525.1 L173.3,526.2 L173.9,529.0 L174.4,528.1 L174.9,529.9 L175.5,529.8 L176.0,530.8 L176.5,530.9 L177.1,529.7 L177.6,531.3 L178.1,530.7 L178.6,531.9 L179.2,531.9 L179.7,531.7 L180.2,532.3 L180.7,533.3 L181.2,532.9 L181.8,533.1 L182.3,533.9 L182.8,534.2 L183.3,533.5 L183.9,534.2 L184.4,534.7 L184.9,534.5 L185.4,534.8 L186.0,534.4 L186.5,534.7 L187.0,535.0 L187.6,534.6 L188.1,535.0 L188.6,535.0 L189.3,535.1 L190.0,535.2 Z" fill="#c8c8c8" stroke="#1a1a1a" stroke-width="0.8" stroke-linejoin="round"/>
<line x1="151.4" y1="535.2" x2="218.7" y2="535.2" stroke="#333" stroke-width="0.9"/>
<text x="108.56" y="422.90" font-size="8.1" font-weight="bold" style="color:#000">3791.24</text>
<text x="197.77" y="422.90" font-size="8.1" font-weight="bold" style="color:#000">1252.98</text>
<text x="108.75" y="454.30" font-size="8.1" font-weight="bold" style="color:#000">1368.25</text>
<text x="202.36" y="454.30" font-size="8.1" font-weight="bold" style="color:#000">289.00</text>
<text x="113.25" y="487.90" font-size="8.1" font-weight="bold" style="color:#000">844.41</text>
<text x="202.32" y="487.90" font-size="8.1" font-weight="bold" style="color:#000">199.63</text>
<text x="113.32" y="521.00" font-size="8.1" font-weight="bold" style="color:#000">129.13</text>
<text x="202.25" y="521.00" font-size="8.1" font-weight="bold" style="color:#000">168.61</text>
<line x1="62.2" y1="540" x2="218.7" y2="540" stroke="#555" stroke-width="1.5"/>
<text x="167.37" y="550.54" font-size="8.0" font-weight="bold" style="color:#000">anti-Cotinine-APC</text>
<path d="M298.4,401.4 V497.5 H443" fill="none" stroke="#000" stroke-width="1.1"/>
<line x1="295.29999999999995" y1="497.50" x2="298.4" y2="497.50" stroke="#000" stroke-width="1"/>
<text x="286.88" y="500.34" font-size="8.0" font-weight="bold" style="color:#000">0</text>
<line x1="295.29999999999995" y1="473.48" x2="298.4" y2="473.48" stroke="#000" stroke-width="1"/>
<text x="273.53" y="476.31" font-size="8.0" font-weight="bold" style="color:#000">1000</text>
<line x1="295.29999999999995" y1="449.45" x2="298.4" y2="449.45" stroke="#000" stroke-width="1"/>
<text x="273.53" y="452.29" font-size="8.0" font-weight="bold" style="color:#000">2000</text>
<line x1="295.29999999999995" y1="425.42" x2="298.4" y2="425.42" stroke="#000" stroke-width="1"/>
<text x="273.53" y="428.26" font-size="8.0" font-weight="bold" style="color:#000">3000</text>
<line x1="295.29999999999995" y1="401.40" x2="298.4" y2="401.40" stroke="#000" stroke-width="1"/>
<text x="273.53" y="404.24" font-size="8.0" font-weight="bold" style="color:#000">4000</text>
<line x1="314.1" y1="497.5" x2="314.1" y2="499.9" stroke="#000" stroke-width="1"/>
<text x="311.91" y="509.60" font-size="7.9" font-weight="bold" style="color:#000">0</text>
<line x1="345.8" y1="497.5" x2="345.8" y2="499.9" stroke="#000" stroke-width="1"/>
<text x="340.26" y="509.60" font-size="7.9" font-weight="bold" style="color:#000">0.1</text>
<line x1="377.5" y1="497.5" x2="377.5" y2="499.9" stroke="#000" stroke-width="1"/>
<text x="375.16" y="509.60" font-size="7.9" font-weight="bold" style="color:#000">1</text>
<line x1="409.6" y1="497.5" x2="409.6" y2="499.9" stroke="#000" stroke-width="1"/>
<text x="405.12" y="509.60" font-size="7.9" font-weight="bold" style="color:#000">10</text>
<g transform="translate(261.80 448.70) rotate(-90)"><text x="-52.34" y="3.41" font-size="9.9" font-weight="bold" style="color:#000">Labeled cotinine (MFI)</text></g>
<polyline points="314.1,494.4 345.8,477.2 377.5,464.7 409.6,406.6" fill="none" stroke="#000" stroke-width="1.1"/>
<polyline points="314.1,493.4 345.8,492.5 377.5,490.5 409.6,467.8" fill="none" stroke="#000" stroke-width="1.1"/>
<circle cx="314.1" cy="494.4" r="4.3" fill="#fff" stroke="#000" stroke-width="1.1"/>
<circle cx="345.8" cy="477.2" r="4.3" fill="#fff" stroke="#000" stroke-width="1.1"/>
<circle cx="377.5" cy="464.7" r="4.3" fill="#fff" stroke="#000" stroke-width="1.1"/>
<circle cx="409.6" cy="406.6" r="4.3" fill="#fff" stroke="#000" stroke-width="1.1"/>
<rect x="310.0" y="489.29999999999995" width="8.2" height="8.2" fill="#fff" stroke="#000" stroke-width="1.1"/>
<rect x="341.7" y="488.4" width="8.2" height="8.2" fill="#fff" stroke="#000" stroke-width="1.1"/>
<rect x="373.4" y="486.4" width="8.2" height="8.2" fill="#fff" stroke="#000" stroke-width="1.1"/>
<rect x="405.5" y="463.7" width="8.2" height="8.2" fill="#fff" stroke="#000" stroke-width="1.1"/>
<circle cx="313" cy="409.8" r="4.2" fill="#fff" stroke="#000" stroke-width="1.1"/>
<rect x="309" y="419" width="8" height="8" fill="#fff" stroke="#000" stroke-width="1.1"/>
<text x="323.27" y="413.07" font-size="9.22" font-weight="bold" style="color:#000">A20</text>
<text x="322.92" y="426.27" font-size="8.66" font-weight="bold" style="color:#000">Mφ</text>
<text x="301.93" y="523.70" font-size="9.05" font-weight="bold" style="color:#000"><tspan style="color:#b01018">C1C02-Cot</tspan> (µg/1x10<tspan font-size="6.6" dy="-3.2">5</tspan><tspan dy="3.2">cells)</tspan></text>
<path d="M501.6,402.3 V496.2 H613.6" fill="none" stroke="#000" stroke-width="1.1"/>
<line x1="499.0" y1="496.20" x2="501.6" y2="496.20" stroke="#000" stroke-width="1"/>
<text x="489.48" y="499.11" font-size="8.2" font-weight="bold" style="color:#0a0aff">0</text>
<line x1="499.0" y1="475.70" x2="501.6" y2="475.70" stroke="#000" stroke-width="1"/>
<text x="475.79" y="478.61" font-size="8.2" font-weight="bold" style="color:#0a0aff">5000</text>
<line x1="499.0" y1="455.20" x2="501.6" y2="455.20" stroke="#000" stroke-width="1"/>
<text x="471.23" y="458.11" font-size="8.2" font-weight="bold" style="color:#0a0aff">10000</text>
<line x1="499.0" y1="434.70" x2="501.6" y2="434.70" stroke="#000" stroke-width="1"/>
<text x="471.23" y="437.61" font-size="8.2" font-weight="bold" style="color:#0a0aff">15000</text>
<line x1="499.0" y1="414.20" x2="501.6" y2="414.20" stroke="#000" stroke-width="1"/>
<text x="471.23" y="417.11" font-size="8.2" font-weight="bold" style="color:#0a0aff">20000</text>
<g transform="translate(459.60 448.60) rotate(-90)"><text x="-34.89" y="3.32" font-size="9.65" font-weight="bold" style="color:#0a0aff">Mφ IL-6 (pg/ml)</text></g>
<path d="M637.3,498.8 V496.2 H651.5 V402.0" fill="none" stroke="#000" stroke-width="1.1"/>
<line x1="651.5" y1="496.20" x2="654.1" y2="496.20" stroke="#000" stroke-width="1"/>
<text x="656.28" y="499.11" font-size="8.2" font-weight="bold" style="color:#ff1010">0</text>
<line x1="651.5" y1="477.36" x2="654.1" y2="477.36" stroke="#000" stroke-width="1"/>
<text x="656.32" y="480.27" font-size="8.2" font-weight="bold" style="color:#ff1010">20</text>
<line x1="651.5" y1="458.52" x2="654.1" y2="458.52" stroke="#000" stroke-width="1"/>
<text x="656.48" y="461.43" font-size="8.2" font-weight="bold" style="color:#ff1010">40</text>
<line x1="651.5" y1="439.68" x2="654.1" y2="439.68" stroke="#000" stroke-width="1"/>
<text x="656.30" y="442.59" font-size="8.2" font-weight="bold" style="color:#ff1010">60</text>
<line x1="651.5" y1="420.84" x2="654.1" y2="420.84" stroke="#000" stroke-width="1"/>
<text x="656.34" y="423.75" font-size="8.2" font-weight="bold" style="color:#ff1010">80</text>
<line x1="651.5" y1="402.00" x2="654.1" y2="402.00" stroke="#000" stroke-width="1"/>
<text x="656.08" y="404.91" font-size="8.2" font-weight="bold" style="color:#ff1010">100</text>
<g transform="translate(680.60 447.60) rotate(90)"><text x="-47.25" y="3.37" font-size="9.8" font-weight="bold" style="color:#ff1010">A20 Cytotoxicity (%)</text></g>
<line x1="517.6" y1="496.2" x2="517.6" y2="498.59999999999997" stroke="#000" stroke-width="1"/>
<text x="515.58" y="509.64" font-size="8.0" font-weight="bold" style="color:#000">0</text>
<line x1="549.6" y1="496.2" x2="549.6" y2="498.59999999999997" stroke="#000" stroke-width="1"/>
<text x="544.19" y="509.64" font-size="8.0" font-weight="bold" style="color:#000">0.1</text>
<line x1="581.4" y1="496.2" x2="581.4" y2="498.59999999999997" stroke="#000" stroke-width="1"/>
<text x="579.23" y="509.64" font-size="8.0" font-weight="bold" style="color:#000">1</text>
<line x1="612.9" y1="496.2" x2="612.9" y2="498.59999999999997" stroke="#000" stroke-width="1"/>
<text x="608.56" y="509.64" font-size="8.0" font-weight="bold" style="color:#000">10</text>
<line x1="635.6" y1="505.8" x2="639.6" y2="505.8" stroke="#000" stroke-width="1.4"/>
<polyline points="517.6,489.3 549.6,410.7 581.4,409.6 612.9,409.6" fill="none" stroke="#ff1010" stroke-width="1.1"/>
<polyline points="517.6,485.4 549.6,465.0 581.4,457.5 612.9,418.7" fill="none" stroke="#0a0aff" stroke-width="1.1"/>
<line x1="612.9" y1="409.6" x2="637.3" y2="406.8" stroke="#f5a0a0" stroke-width="1.6" stroke-dasharray="1.6 2.2"/>
<line x1="612.9" y1="418.7" x2="637.3" y2="428.5" stroke="#6aa8f0" stroke-width="1.6" stroke-dasharray="1.6 2.2"/>
<circle cx="517.6" cy="489.3" r="4.5" fill="#fff" stroke="#ff1010" stroke-width="1.2"/>
<circle cx="549.6" cy="410.7" r="4.5" fill="#fff" stroke="#ff1010" stroke-width="1.2"/>
<circle cx="581.4" cy="409.6" r="4.5" fill="#fff" stroke="#ff1010" stroke-width="1.2"/>
<circle cx="612.9" cy="409.6" r="4.5" fill="#fff" stroke="#ff1010" stroke-width="1.2"/>
<circle cx="637.3" cy="406.8" r="4.5" fill="#fff" stroke="#ff1010" stroke-width="1.2"/>
<circle cx="517.6" cy="485.4" r="4.5" fill="#fff" stroke="#0a0aff" stroke-width="1.2"/>
<circle cx="549.6" cy="465.0" r="4.5" fill="#fff" stroke="#0a0aff" stroke-width="1.2"/>
<circle cx="581.4" cy="457.5" r="4.5" fill="#fff" stroke="#0a0aff" stroke-width="1.2"/>
<circle cx="612.9" cy="418.7" r="4.5" fill="#fff" stroke="#0a0aff" stroke-width="1.2"/>
<circle cx="637.3" cy="428.5" r="4.5" fill="#fff" stroke="#0a0aff" stroke-width="1.2"/>
<text x="505.93" y="525.00" font-size="9.0" font-weight="bold" style="color:#000"><tspan style="color:#b01018">C1C02-Cot</tspan> (µg/1x10<tspan font-size="6.6" dy="-3.2">5</tspan><tspan dy="3.2">cells)</tspan></text>
<line x1="512.2" y1="531.5" x2="612.3" y2="531.5" stroke="#000" stroke-width="1"/>
<line x1="624" y1="531.5" x2="650.9" y2="531.5" stroke="#000" stroke-width="1"/>
<text x="544.93" y="544.80" font-size="9.0" font-weight="bold" style="color:#000">Cot CAR-T</text>
<text x="612.94" y="544.73" font-size="8.81" font-weight="bold" style="color:#000">CD40 CAR-T</text>
</svg>
</body></html>
